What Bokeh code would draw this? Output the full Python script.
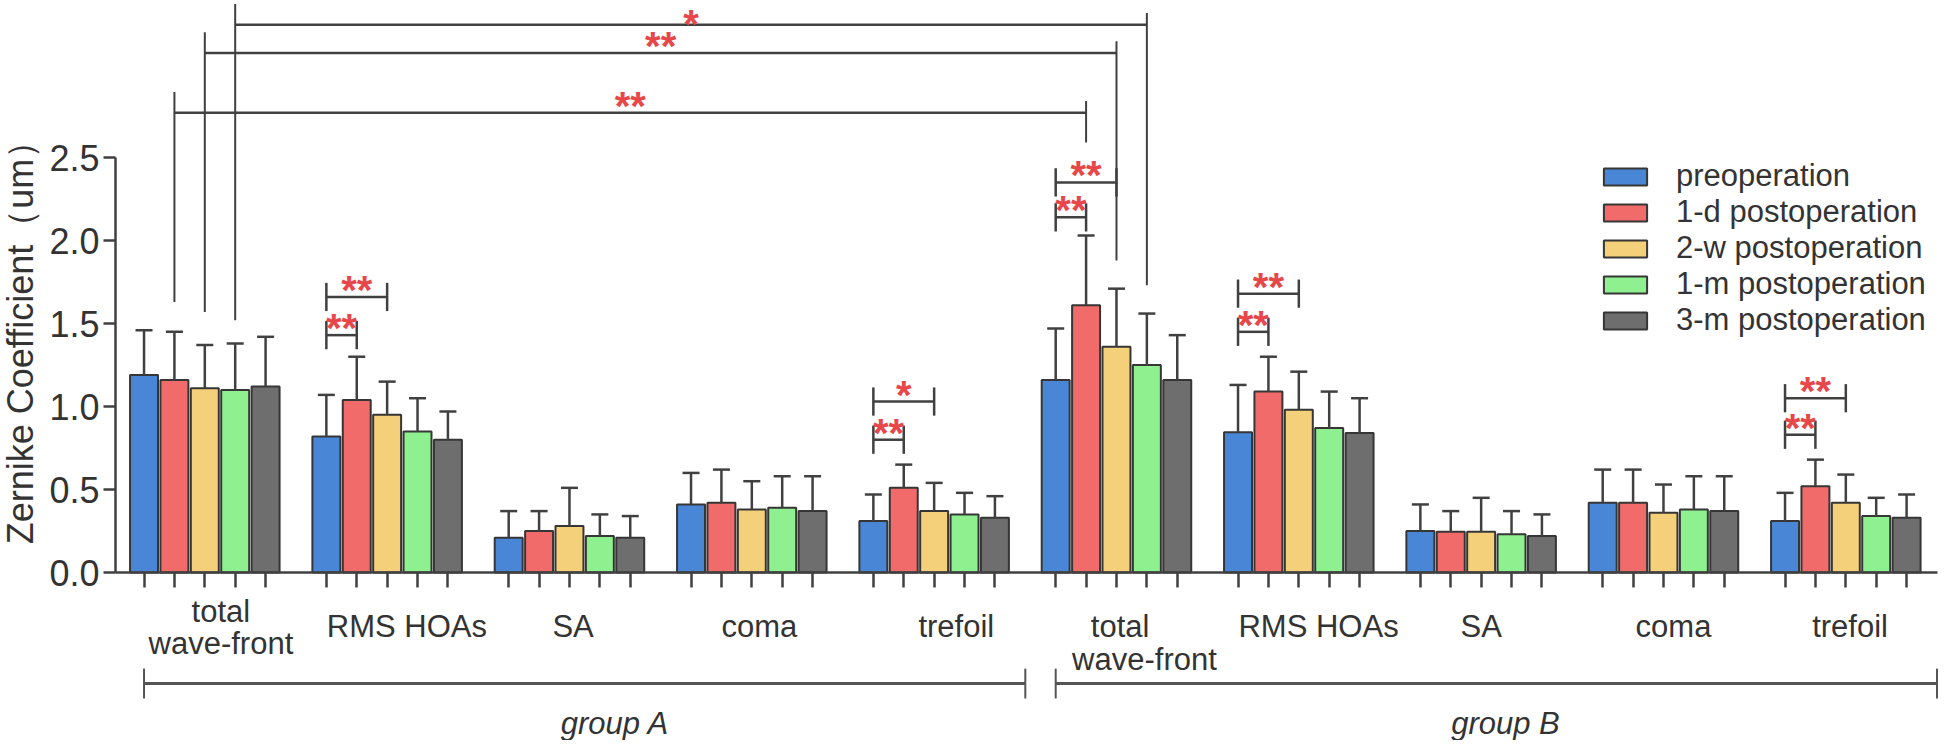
from math import pi
from bokeh.plotting import figure
from bokeh.models import Range1d, LinearAxis, FixedTicker, Legend, LegendItem
from bokeh.core.properties import value
from bokeh.embed import file_html
from bokeh.resources import INLINE

# ---------------- data ----------------
measures = ["total wave-front", "RMS HOAs", "SA", "coma", "trefoil"]
groups = ["group A", "group B"]
series_names = ["preoperation", "1-d postoperation", "2-w postoperation",
                "1-m postoperation", "3-m postoperation"]
colors = ["#4a86d6", "#f26b6b", "#f5d07a", "#8ef08e", "#6e6e6e"]

# means, order: group A (5 measures) then group B (5 measures)
pre_mean = [1.19, 0.82, 0.21, 0.41, 0.31, 1.16, 0.845, 0.25, 0.42, 0.31]
d1_mean = [1.16, 1.04, 0.25, 0.42, 0.51, 1.61, 1.09, 0.245, 0.42, 0.52]
w2_mean = [1.11, 0.95, 0.28, 0.38, 0.37, 1.36, 0.98, 0.245, 0.36, 0.42]
m1_mean = [1.10, 0.85, 0.22, 0.39, 0.35, 1.25, 0.87, 0.23, 0.38, 0.34]
m3_mean = [1.12, 0.80, 0.21, 0.37, 0.33, 1.16, 0.84, 0.22, 0.37, 0.33]

pre_sd = [0.27, 0.25, 0.16, 0.19, 0.16, 0.31, 0.285, 0.16, 0.20, 0.17]
d1_sd = [0.29, 0.26, 0.12, 0.20, 0.14, 0.42, 0.21, 0.125, 0.20, 0.16]
w2_sd = [0.26, 0.20, 0.23, 0.17, 0.17, 0.35, 0.23, 0.205, 0.17, 0.17]
m1_sd = [0.28, 0.20, 0.13, 0.19, 0.13, 0.31, 0.22, 0.14, 0.20, 0.11]
m3_sd = [0.30, 0.17, 0.13, 0.21, 0.13, 0.27, 0.21, 0.13, 0.21, 0.14]

y_ticks = [0.0, 0.5, 1.0, 1.5, 2.0, 2.5]

# significance within one measure: (measure index, series i, series j, height, label)
local_sig = [(1, 0, 2, 1.66, "**"), (1, 0, 1, 1.43, "**"),
             (4, 0, 2, 1.03, "*"), (4, 0, 1, 0.80, "**"),
             (5, 0, 2, 2.35, "**"), (5, 0, 1, 2.14, "**"),
             (6, 0, 2, 1.68, "**"), (6, 0, 1, 1.45, "**"),
             (9, 0, 2, 1.05, "**"), (9, 0, 1, 0.83, "**")]
# group A vs group B total wave-front: series, height, label, lower ends of the legs
cross_series = [1, 2, 3]
cross_height = [2.77, 3.13, 3.30]
cross_label = ["**", "**", "*"]
cross_left_low = [1.63, 1.57, 1.52]
cross_right_low = [2.59, 1.88, 1.73]

means = [pre_mean, d1_mean, w2_mean, m1_mean, m3_mean]
sds = [pre_sd, d1_sd, w2_sd, m1_sd, m3_sd]

# ---------------- layout helpers ----------------
SPACING = 6
NCAT = 10
X_AXIS_START = -2.94
X_AXIS_END = 57.03


def bx(k, s):
    return k * SPACING + (s - 2)


TEXT = "#333333"
AXIS = "#404040"
FONT = "Liberation Sans"

p = figure(width=1938, height=740, x_range=Range1d(-6.723, 57.05),
           y_range=Range1d(-1.012, 3.446), output_backend="svg",
           toolbar_location=None, x_axis_type=None, y_axis_type=None,
           min_border_left=0, min_border_right=0, min_border_top=0,
           min_border_bottom=0)
p.grid.visible = False
p.outline_line_color = None

# bars + error bars
renderers = []
for s in range(5):
    xs = [bx(k, s) for k in range(NCAT)]
    r = p.vbar(x=xs, top=means[s], bottom=0, width=0.92, fill_color=colors[s],
               line_color="#363636", line_width=2)
    renderers.append(r)
    tops = [m + d for m, d in zip(means[s], sds[s])]
    p.segment(x0=xs, y0=means[s], x1=xs, y1=tops, line_color=AXIS, line_width=2.5)
    p.segment(x0=[x - 0.28 for x in xs], y0=tops, x1=[x + 0.28 for x in xs], y1=tops,
              line_color=AXIS, line_width=2.5)

# y axis (fixed at the left end of the x axis)
yax = LinearAxis(fixed_location=X_AXIS_START, ticker=FixedTicker(ticks=y_ticks),
                 bounds=(0, 2.5), major_label_text_font=FONT,
                 major_label_text_font_size="36px", major_label_text_color=TEXT,
                 major_tick_out=12, major_tick_in=0, minor_tick_line_color=None,
                 axis_line_width=2.5, axis_line_color=AXIS, major_tick_line_width=2.5,
                 major_tick_line_color=AXIS, major_label_standoff=4)
yax.major_label_overrides = {t: f"{t:.1f}" for t in y_ticks}
p.add_layout(yax, "left")

# x axis at y = 0, one small tick under every bar
bar_positions = [bx(k, s) for k in range(NCAT) for s in range(5)]
xax = LinearAxis(fixed_location=0, ticker=FixedTicker(ticks=[], minor_ticks=bar_positions),
                 bounds=(X_AXIS_START, X_AXIS_END), major_tick_line_color=None,
                 minor_tick_in=0, minor_tick_out=15, minor_tick_line_width=2.5,
                 minor_tick_line_color=AXIS, axis_line_width=2.5, axis_line_color=AXIS)
p.add_layout(xax, "below")

# category labels
lab_off = [0.53, 0.65, 0.12, 0.25, 0.73, 0.12, 0.65, 0.0, 0.33, 0.14]
lx, ly, lt = [], [], []
for k in range(NCAT):
    name = measures[k % 5]
    cx = k * SPACING + lab_off[k]
    if k == 0:
        lx += [cx, cx]; ly += [-0.235, -0.428]; lt += ["total", "wave-front"]
    elif k == 5:
        lx += [cx, cx + 0.8]; ly += [-0.325, -0.524]; lt += ["total", "wave-front"]
    else:
        lx.append(cx); ly.append(-0.325); lt.append(name)
p.text(x=lx, y=ly, text=lt, text_align="center", text_baseline="middle",
       text_font=value(FONT), text_font_size="31px", text_color=TEXT)

# group brackets
gb_y = -0.669
g_start = [-2, 28]
g_end = [27, 57]
g_lab_off = [1.0, 0.3]
p.segment(x0=g_start, y0=[gb_y] * 2, x1=g_end, y1=[gb_y] * 2, line_color="#555555", line_width=3)
p.segment(x0=g_start + g_end, y0=[gb_y - 0.09] * 4, x1=g_start + g_end, y1=[gb_y + 0.09] * 4,
          line_color="#555555", line_width=2)
p.text(x=[(a + b) / 2 + o for a, b, o in zip(g_start, g_end, g_lab_off)], y=[-0.91] * 2,
       text=groups, text_align="center", text_baseline="middle", text_font=value(FONT),
       text_font_size="31px", text_font_style="italic", text_color=TEXT)

# local significance brackets
sx0, sx1, sy, st = [], [], [], []
stub_x, stub_y0, stub_y1 = [], [], []
for k, i, j, h, t in local_sig:
    a, b = bx(k, i), bx(k, j)
    sx0.append(a); sx1.append(b); sy.append(h); st.append(t)
    stub_x += [a, b]; stub_y0 += [h - 0.085] * 2; stub_y1 += [h + 0.085] * 2
p.segment(x0=sx0, y0=sy, x1=sx1, y1=sy, line_color=AXIS, line_width=2.5)
p.segment(x0=stub_x, y0=stub_y0, x1=stub_x, y1=stub_y1, line_color=AXIS, line_width=2.5)

# cross-group brackets
cx0 = [bx(0, s) for s in cross_series]
cx1 = [bx(5, s) for s in cross_series]
p.segment(x0=cx0, y0=cross_height, x1=cx1, y1=cross_height, line_color=AXIS, line_width=2.5)
p.segment(x0=cx0, y0=cross_left_low, x1=cx0, y1=[h + 0.125 for h in cross_height],
          line_color=AXIS, line_width=2)
p.segment(x0=cx1, y0=cross_right_low, x1=cx1, y1=[h + 0.07 for h in cross_height],
          line_color=AXIS, line_width=2)

star_x = [(a + b) / 2 for a, b in zip(sx0, sx1)] + [(a + b) / 2 for a, b in zip(cx0, cx1)]
star_y = sy + cross_height
star_t = st + cross_label
# the star on the topmost bracket sits a little lower so it stays inside the picture
star_dy = [-7] * (len(star_y) - 1) + [-1]
p.text(x=star_x, y=star_y, text=star_t, y_offset=star_dy, text_align="center",
       text_baseline="middle", text_font=value(FONT), text_font_size="40px",
       text_font_style="bold", text_color="#e8474a")

# y axis title
p.text(x=[-6.05], y=[1.44], text=["Zernike Coefficient（um）"], angle=pi / 2,
       text_align="center", text_baseline="middle", text_font=value(FONT),
       text_font_size="36px", text_color=TEXT)

# legend
legend = Legend(items=[LegendItem(label=n, renderers=[r]) for n, r in zip(series_names, renderers)],
                location=(1598, 402), orientation="vertical", glyph_width=54, glyph_height=21,
                label_height=30, spacing=0, padding=0, margin=0, border_line_color=None,
                background_fill_alpha=0, label_text_font=FONT, label_text_font_size="31px",
                label_standoff=24, label_text_color=TEXT)
p.add_layout(legend)

open("out.html", "w").write(file_html(p, INLINE))
